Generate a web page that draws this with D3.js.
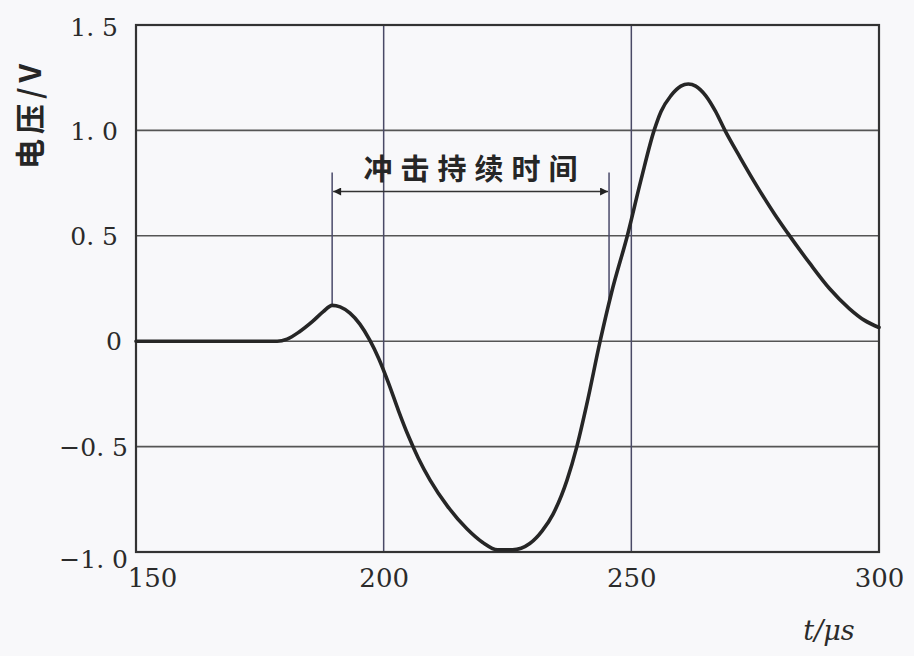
<!DOCTYPE html>
<html><head><meta charset="utf-8">
<script src="https://cdn.jsdelivr.net/npm/d3@7"></script>
<style>
html,body{margin:0;padding:0;background:#f8f8fa;}
svg{display:block;}
</style></head>
<body>
<svg id="c" width="914" height="656"></svg>
<script>
// ---- data ----
const tValues = [150,170,178.5,180.5,183,185.7,187.8,189.6,191.2,193.2,195.2,197.2,199,201,203,205,207,209.4,212.8,216.8,220,223,226,229.5,232,234.2,237,239,241,243.7,246,249.3,252,254.6,256,258,260,261.5,263,265,267,268.9,272,275.5,279,281.5,286,290,294,297,300];
const vValues = [0,0,0,0.01,0.045,0.095,0.14,0.17,0.163,0.133,0.081,0.005,-0.082,-0.2,-0.33,-0.45,-0.555,-0.66,-0.78,-0.89,-0.955,-0.99,-0.99,-0.96,-0.9,-0.82,-0.66,-0.5,-0.3,0,0.23,0.51,0.77,1.0,1.09,1.165,1.21,1.22,1.21,1.165,1.09,1.0,0.87,0.73,0.6,0.515,0.37,0.25,0.155,0.1,0.065];
const xTicks = [150,200,250,300];
const yTicks = [-1.0,-0.5,0,0.5,1.0,1.5];
const yTickLabels = ["\u22121. 0","\u22120. 5","0","0. 5","1. 0","1. 5"];
const xGrid = [200,250];
const yGrid = [-0.5,0,0.5,1.0];
const markerT = [189.6,245.5];      // impulse duration start / end
const markerV = [0.17,0.19];        // where marker lines meet the curve
const markerTopV = 0.8;
const arrowV = 0.71;
const durationLabel = "冲击持续时间";
const yTitle = "电压/V";
const xTitle = "t/\u03bcs";

// ---- layout ----
const L = 136, R = 879, T = 25, B = 552;
const svg = d3.select("#c");
const x = d3.scaleLinear().domain([150,300]).range([L,R]);
const y = d3.scaleLinear().domain([-1,1.5]).range([B,T]);
const ink = "#2b2b2b";

// gridlines
svg.append("g").selectAll("line").data(yGrid).join("line")
  .attr("x1",L).attr("x2",R).attr("y1",d=>y(d)).attr("y2",d=>y(d))
  .attr("stroke","#555").attr("stroke-width",1.6);
svg.append("g").selectAll("line").data(xGrid).join("line")
  .attr("x1",d=>x(d)).attr("x2",d=>x(d)).attr("y1",T).attr("y2",B)
  .attr("stroke","#4a4a66").attr("stroke-width",1.5);

// frame
svg.append("rect").attr("x",L).attr("y",T).attr("width",R-L).attr("height",B-T)
  .attr("fill","none").attr("stroke","#333").attr("stroke-width",2.2);

// marker lines
svg.append("g").selectAll("line").data(markerT).join("line")
  .attr("x1",d=>x(d)).attr("x2",d=>x(d))
  .attr("y1",y(markerTopV)).attr("y2",(d,i)=>y(markerV[i]))
  .attr("stroke","#4a4a6a").attr("stroke-width",1.5);

// arrow
const defs = svg.append("defs");
defs.append("marker").attr("id","ah").attr("viewBox","0 0 10 10").attr("refX",10).attr("refY",5)
  .attr("markerWidth",14).attr("markerHeight",8).attr("markerUnits","userSpaceOnUse")
  .attr("orient","auto-start-reverse")
  .append("path").attr("d","M0,0 L10,5 L0,10 Z").attr("fill","#222");
svg.append("line")
  .attr("x1",x(markerT[0])+1).attr("x2",x(markerT[1])-1)
  .attr("y1",y(arrowV)).attr("y2",y(arrowV))
  .attr("stroke","#333").attr("stroke-width",1.6)
  .attr("marker-start","url(#ah)").attr("marker-end","url(#ah)");
svg.append("text")
  .attr("x",(x(markerT[0])+x(markerT[1]))/2+4).attr("y",y(arrowV)-12)
  .attr("text-anchor","middle")
  .attr("font-family","'Noto Sans CJK SC'").attr("font-weight",700)
  .attr("font-size",29).attr("letter-spacing",8).attr("fill","#262626")
  .text(durationLabel);

// curve
const pts = tValues.map((t,i)=>[t,vValues[i]]);
svg.append("path").datum(pts)
  .attr("d",d3.line().x(d=>x(d[0])).y(d=>y(d[1])).curve(d3.curveMonotoneX))
  .attr("fill","none").attr("stroke","#262626").attr("stroke-width",3.6)
  .attr("stroke-linejoin","round").attr("stroke-linecap","round");

// axes
const fontSerif = "'DejaVu Serif', serif";
const yAxis = svg.append("g").attr("transform",`translate(${L},0)`)
  .call(d3.axisLeft(y).tickValues(yTicks).tickSize(0).tickPadding(14)
    .tickFormat((d,i)=>yTickLabels[i]));
yAxis.select(".domain").remove();
yAxis.selectAll("text").attr("font-family",fontSerif).attr("font-size",25)
  .attr("fill",ink)
  .attr("dy",(d)=> d===-1 ? "0.62em" : (d===1.5 ? "0.42em":"0.35em"))
  .attr("dx",(d)=> d<0 ? "6" : (d===0 ? "0" : "-4"));

const xAxis = svg.append("g").attr("transform",`translate(0,${B})`)
  .call(d3.axisBottom(x).tickValues(xTicks).tickSize(0).tickPadding(17).tickFormat(d3.format("d")));
xAxis.select(".domain").remove();
xAxis.selectAll("text").attr("font-family",fontSerif).attr("font-size",26)
  .attr("fill",ink).attr("dx",d=> d===150 ? 16 : 0);

// titles
svg.append("text").attr("x",829).attr("y",640).attr("text-anchor","middle")
  .attr("font-family",fontSerif).attr("font-style","italic").attr("font-size",27)
  .attr("fill",ink).text(xTitle);
svg.append("text").attr("transform","translate(41,114) rotate(-90)")
  .attr("text-anchor","middle")
  .attr("font-family","'Noto Sans CJK SC'").attr("font-weight",700)
  .attr("font-size",30).attr("letter-spacing",5).attr("fill","#262626")
  .text(yTitle);
</script>
</body></html>
